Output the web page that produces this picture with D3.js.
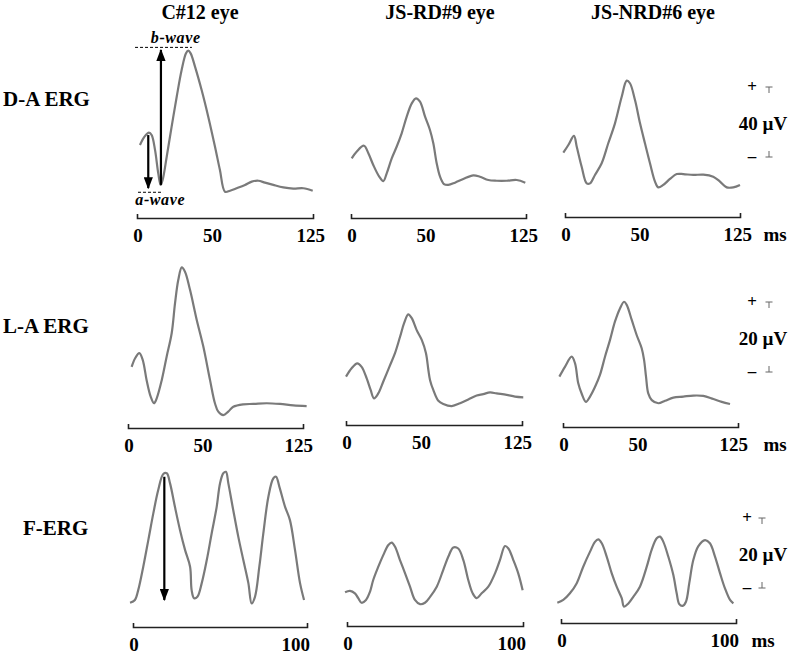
<!DOCTYPE html>
<html>
<head>
<meta charset="utf-8">
<script src="https://cdn.jsdelivr.net/npm/d3@7"></script>
<style>
  body { margin: 0; background: #fff; }
  svg { display: block; }
</style>
</head>
<body>
<div id="chart"></div>
<script>
// ---- data (time in ms, amplitude in µV) ----
var columns = ["C#12 eye", "JS-RD#9 eye", "JS-NRD#6 eye"];
var rowNames = ["D-A ERG", "L-A ERG", "F-ERG"];
var scaleValues = [40, 20, 20];
var scaleLabels = ["40 µV", "20 µV", "20 µV"];
var xMaxes = [125, 125, 100];
var xTicks = [[0, 50, 125], [0, 50, 125], [0, 100]];

var daC12 = [[2.1,25.7],[5.0,30.1],[8.5,32.8],[10.4,31.4],[12.8,22.9],[15.1,9.5],[16.8,2.9],[18.2,5.7],[21.1,19.0],[24.6,36.2],[28.2,53.3],[31.7,68.6],[34.8,78.1],[36.4,79.6],[38.1,78.1],[41.2,70.5],[45.9,57.1],[50.6,41.9],[55.4,24.7],[58.9,11.4],[62.5,-1.0],[66.1,-0.4],[70.8,1.0],[76.7,2.9],[81.5,4.8],[86.2,5.3],[90.9,4.2],[96.8,2.9],[103.9,1.5],[111.0,0.8],[118.1,1.0],[124.8,-0.4]];
var daRD9 = [[0.5,18.1],[4.0,21.9],[9.3,25.3],[12.4,21.0],[15.9,14.3],[20.2,7.6],[23.1,5.1],[25.5,9.5],[29.1,18.1],[32.6,24.7],[36.2,32.4],[39.8,41.9],[43.4,49.5],[46.4,52.4],[49.3,50.5],[52.9,41.9],[56.4,34.3],[58.8,26.7],[61.2,15.3],[63.6,7.6],[66.4,3.4],[69.5,2.9],[74.3,4.2],[80.2,6.3],[87.4,8.4],[92.1,7.6],[98.1,5.7],[104.1,5.3],[111.2,5.3],[118.4,5.7],[124.5,4.2]];
var daNRD6 = [[-1.2,21.3],[2.4,25.7],[6.4,30.9],[8.4,24.7],[11.9,13.3],[15.5,3.8],[17.9,3.8],[21.4,8.6],[26.2,15.3],[30.9,26.7],[35.7,38.1],[40.5,53.3],[44.1,62.5],[46.4,61.0],[50.0,51.4],[53.6,38.1],[57.1,26.7],[60.7,15.3],[64.3,4.8],[66.6,1.5],[70.2,2.9],[75.0,6.3],[79.8,9.1],[84.5,9.1],[91.6,8.6],[98.8,8.8],[105.9,7.6],[110.7,4.8],[115.5,1.5],[120.2,1.5],[125.0,2.9]];

var laC12 = [[2.6,10.9],[5.0,13.3],[8.1,14.8],[10.5,12.9],[13.3,7.1],[16.2,2.4],[18.6,0.5],[20.5,1.9],[24.1,7.1],[27.6,13.8],[31.2,20.5],[33.6,29.1],[35.9,35.7],[38.4,39.3],[40.7,38.1],[44.3,32.9],[49.1,24.3],[53.8,16.7],[58.6,7.1],[62.1,0.5],[64.5,-1.9],[68.1,-2.9],[71.6,-1.9],[75.2,-0.5],[82.4,0.2],[89.5,0.3],[99.1,0.5],[108.6,0.3],[118.1,-0.1],[127.6,-0.3]];
var laRD9 = [[0,8.1],[4.0,10.5],[8.0,11.9],[11.1,10.9],[14.7,7.6],[17.5,4.3],[19.9,1.9],[22.9,3.3],[26.5,6.7],[30.8,10.9],[34.8,14.8],[38.4,19.5],[41.2,23.3],[44.2,25.9],[46.7,24.8],[50.2,21.4],[53.8,18.6],[56.8,14.8],[58.5,10.0],[59.7,7.1],[62.0,4.3],[65.6,1.2],[69.1,0.3],[75.1,-0.3],[81.0,0.5],[86.9,1.6],[92.8,2.7],[97.5,3.1],[102.3,3.6],[107.0,3.3],[114.1,2.9],[120.0,2.4],[125.9,2.2]];
var laNRD6 = [[-2.6,8.1],[1.4,10.9],[6.2,13.8],[8.6,11.9],[10.9,6.2],[13.3,3.3],[16.4,0.9],[19.3,2.4],[22.9,5.2],[26.4,8.6],[30.0,13.8],[33.6,18.6],[37.1,23.8],[40.7,27.6],[43.6,29.5],[45.5,28.6],[49.1,24.3],[52.6,20.0],[56.2,16.2],[57.9,12.9],[59.3,8.1],[60.9,3.3],[63.4,1.4],[68.1,0.5],[72.9,1.2],[78.8,2.1],[85.9,2.4],[93.1,2.7],[100.2,2.6],[107.4,1.7],[113.4,0.9],[119.3,0.3]];

var fC12 = [[-1.7,3.5],[1.1,4.3],[3.0,7.1],[5.9,13.8],[8.8,21.4],[11.7,29.1],[14.5,35.7],[17.4,40.3],[19.4,40.5],[21.3,37.6],[24.1,30.9],[27.0,24.3],[29.9,18.6],[32.8,13.8],[33.7,7.1],[35.1,4.8],[37.0,5.2],[39.5,9.1],[42.4,15.7],[45.2,23.3],[48.1,30.9],[50.0,37.6],[51.9,40.5],[53.4,40.9],[54.8,37.6],[57.6,30.0],[60.5,22.4],[63.4,15.7],[66.3,9.1],[68.2,3.3],[70.1,5.2],[72.6,13.8],[74.9,23.3],[77.8,33.8],[80.6,39.0],[82.2,39.5],[84.1,36.7],[87.4,30.9],[90.2,27.1],[93.1,18.6],[96.0,9.1],[98.3,4.3]];
var fRD9 = [[-1.1,6.5],[1.7,6.9],[4.5,6.2],[6.4,4.8],[8.3,3.5],[10.8,4.3],[13.1,6.7],[14.9,10.0],[17.8,13.8],[20.6,17.1],[23.5,20.0],[25.4,20.7],[27.3,19.5],[30.1,15.7],[33.0,11.9],[35.8,8.1],[38.6,4.3],[41.5,3.1],[44.3,3.5],[47.2,5.2],[51.0,8.1],[54.7,12.9],[57.6,16.7],[60.4,19.3],[63.2,19.0],[66.1,15.7],[68.9,10.0],[71.4,6.2],[73.7,4.8],[76.5,6.2],[80.3,8.1],[84.1,11.9],[86.9,15.7],[89.8,19.7],[91.7,19.0],[94.5,15.7],[97.3,11.9],[99.8,7.1]];
var fNRD6 = [[-2.1,3.5],[1.3,4.3],[5.1,6.2],[9.0,9.1],[12.7,13.8],[16.6,18.1],[19.4,20.9],[21.3,21.6],[23.3,20.5],[26.1,16.7],[29.0,11.9],[31.8,8.1],[34.7,4.8],[36.0,2.4],[38.5,3.3],[41.3,5.2],[45.1,8.1],[49.0,13.8],[51.8,18.6],[54.7,21.9],[56.6,22.4],[58.5,20.9],[61.3,16.7],[64.2,11.4],[66.1,6.2],[67.6,3.1],[69.5,2.6],[71.4,3.8],[73.3,9.1],[75.6,15.7],[78.5,19.7],[82.3,21.4],[85.1,20.5],[88.0,16.7],[90.9,11.9],[93.7,7.6],[96.6,4.3],[98.5,3.3]];

var traces = [
  [daC12, daRD9, daNRD6],
  [laC12, laRD9, laNRD6],
  [fC12, fRD9, fNRD6]
];

// annotation values (ms, µV) on the C#12 panels
var aWave = {t: 8.0, from: 31.4, to: 1.1, lineFrom: 0.7, lineTo: 18.5, level: -1.3};
var bWave = {t: 17.0, from: 2.9, to: 80.0, lineFrom: -1.4, lineTo: 39, level: 81.5};
var fArrow = {t: 18.0, from: 39.5, to: 4.3};

// ---- layout ----
var width = 797, height = 655;
var panelX = [
  [[137, 313], [351, 526], [565, 740]],
  [[128, 303], [346, 522], [563, 738]],
  [[133, 307], [347, 523], [561, 736]]
];
var barY = [[218, 218, 217], [428, 425, 427], [627, 626, 623]];
var rowBase = [190, 405, 615];   // pixel of 0 µV
var pxPerUnit = [1.75, 3.5, 3.5];
var scaleBarBottom = [157, 372, 588];
var scaleBarX = [[752, 769], [752, 769], [747, 762]];
var rowLabelPos = [[3, 106], [3, 333], [23, 535]];
var titleX = [200, 440, 653];
var msX = [775, 775, 763];
var lastTickShift = [12, 10, 3];

var serif = "'Liberation Serif', 'Times New Roman', serif";

var svg = d3.select("#chart").append("svg")
  .attr("width", width)
  .attr("height", height);

var defs = svg.append("defs");
defs.append("marker")
  .attr("id", "arrow")
  .attr("viewBox", "0 0 10 10")
  .attr("refX", 9).attr("refY", 5)
  .attr("markerWidth", 5.5).attr("markerHeight", 4.2)
  .attr("markerUnits", "strokeWidth")
  .attr("orient", "auto")
  .attr("preserveAspectRatio", "none")
  .append("path")
  .attr("d", "M0,0 L10,5 L0,10 Z")
  .attr("fill", "#000");

// column titles
svg.selectAll(".colTitle")
  .data(columns)
 .enter()
  .append("text")
  .attr("class", "colTitle")
  .attr("x", function(d, i) { return titleX[i]; })
  .attr("y", 19)
  .attr("text-anchor", "middle")
  .text(function(d) { return d; })
  .style("font-family", serif)
  .style("font-weight", "bold")
  .style("font-size", "20px");

// row labels
svg.selectAll(".rowLabel")
  .data(rowNames)
 .enter()
  .append("text")
  .attr("class", "rowLabel")
  .attr("x", function(d, i) { return rowLabelPos[i][0]; })
  .attr("y", function(d, i) { return rowLabelPos[i][1]; })
  .text(function(d) { return d; })
  .style("font-family", serif)
  .style("font-weight", "bold")
  .style("font-size", "21px");

var line = d3.line().curve(d3.curveCatmullRom.alpha(0.5));
var xScales = [], yScales = [];

rowNames.forEach(function(rowName, r) {
  var yScale = d3.scaleLinear()
    .domain([0, scaleValues[r]])
    .range([rowBase[r], rowBase[r] - scaleValues[r] * pxPerUnit[r]]);
  yScales.push(yScale);
  xScales.push([]);

  columns.forEach(function(col, c) {
    var xScale = d3.scaleLinear()
      .domain([0, xMaxes[r]])
      .range(panelX[r][c]);
    xScales[r].push(xScale);

    var g = svg.append("g").attr("class", "panel");

    g.append("path")
      .datum(traces[r][c])
      .attr("d", line.x(function(d) { return xScale(d[0]); })
                     .y(function(d) { return yScale(d[1]); }))
      .style("fill", "none")
      .style("stroke", "#7a7a7a")
      .style("stroke-width", 2.2)
      .style("stroke-linejoin", "round");

    // time bar
    var axis = d3.axisBottom(xScale)
      .tickValues([])
      .tickSizeOuter(-4);
    g.append("g")
      .attr("class", "x axis")
      .attr("transform", "translate(0," + barY[r][c] + ")")
      .call(axis)
      .select(".domain")
      .style("stroke", "#222")
      .style("stroke-width", 1.6);

    var ticks = xTicks[r];
    g.selectAll(".tickLabel")
      .data(ticks)
     .enter()
      .append("text")
      .attr("class", "tickLabel")
      .attr("x", function(d, i) {
        if (i === ticks.length - 1) return xScale(d) + lastTickShift[r];
        return xScale(d) + (i === 0 ? 1 : 5);
      })
      .attr("y", barY[r][c] + 24)
      .attr("text-anchor", function(d, i) { return i === ticks.length - 1 ? "end" : "middle"; })
      .text(function(d) { return d; })
      .style("font-family", serif)
      .style("font-weight", "bold")
      .style("font-size", "19px");
  });

  // ms unit
  svg.append("text")
    .attr("x", msX[r])
    .attr("y", barY[r][2] + 24)
    .attr("text-anchor", "middle")
    .text("ms")
    .style("font-family", serif)
    .style("font-weight", "bold")
    .style("font-size", "19px");

  // amplitude scale marks
  var top = scaleBarBottom[r] - (yScale(0) - yScale(scaleValues[r]));
  var bot = scaleBarBottom[r];
  var tx = scaleBarX[r][1];
  var sg = svg.append("g").attr("class", "scalebar");
  sg.append("text").attr("x", scaleBarX[r][0]).attr("y", top + 5)
    .attr("text-anchor", "middle").text("+")
    .style("font-family", serif).style("font-weight", "bold").style("font-size", "17px");
  sg.append("path")
    .attr("d", "M" + (tx - 3.5) + "," + top + "H" + (tx + 3.5) + "M" + tx + "," + top + "V" + (top + 6))
    .style("stroke", "#666").style("stroke-width", 1).style("fill", "none");
  sg.append("text").attr("x", scaleBarX[r][0]).attr("y", bot + 5)
    .attr("text-anchor", "middle").text("\u2013")
    .style("font-family", serif).style("font-weight", "bold").style("font-size", "17px");
  sg.append("path")
    .attr("d", "M" + (tx - 3.5) + "," + bot + "H" + (tx + 3.5) + "M" + tx + "," + bot + "V" + (bot - 6))
    .style("stroke", "#666").style("stroke-width", 1).style("fill", "none");
  sg.append("text")
    .attr("x", 763)
    .attr("y", (top + bot) / 2 + 8)
    .attr("text-anchor", "middle")
    .text(scaleLabels[r])
    .style("font-family", serif)
    .style("font-weight", "bold")
    .style("font-size", "19px");
});

// ---- annotations on the C#12 panels ----
var x0 = xScales[0][0], y0 = yScales[0];
var ann = svg.append("g").attr("class", "annotations");

[bWave, aWave].forEach(function(w) {
  ann.append("line")
    .attr("x1", x0(w.lineFrom)).attr("x2", x0(w.lineTo))
    .attr("y1", y0(w.level)).attr("y2", y0(w.level))
    .style("stroke", "#000")
    .style("stroke-width", 1)
    .style("stroke-dasharray", "3,2");
});

ann.append("text")
  .attr("x", x0(27.5))
  .attr("y", y0(bWave.level) - 4)
  .attr("text-anchor", "middle")
  .text("b-wave")
  .style("font-family", serif)
  .style("font-weight", "bold")
  .style("font-style", "italic")
  .style("letter-spacing", "0.6px")
  .style("font-size", "16px");

ann.append("text")
  .attr("x", x0(16.5))
  .attr("y", y0(aWave.level) + 13)
  .attr("text-anchor", "middle")
  .text("a-wave")
  .style("font-family", serif)
  .style("font-weight", "bold")
  .style("font-style", "italic")
  .style("letter-spacing", "0.6px")
  .style("font-size", "16px");

function arrow(xs, ys, a) {
  ann.append("line")
    .attr("x1", xs(a.t)).attr("x2", xs(a.t))
    .attr("y1", ys(a.from)).attr("y2", ys(a.to))
    .attr("marker-end", "url(#arrow)")
    .style("stroke", "#000")
    .style("stroke-width", 2.2);
}
arrow(x0, y0, aWave);
arrow(x0, y0, bWave);
arrow(xScales[2][0], yScales[2], fArrow);
</script>
</body>
</html>
